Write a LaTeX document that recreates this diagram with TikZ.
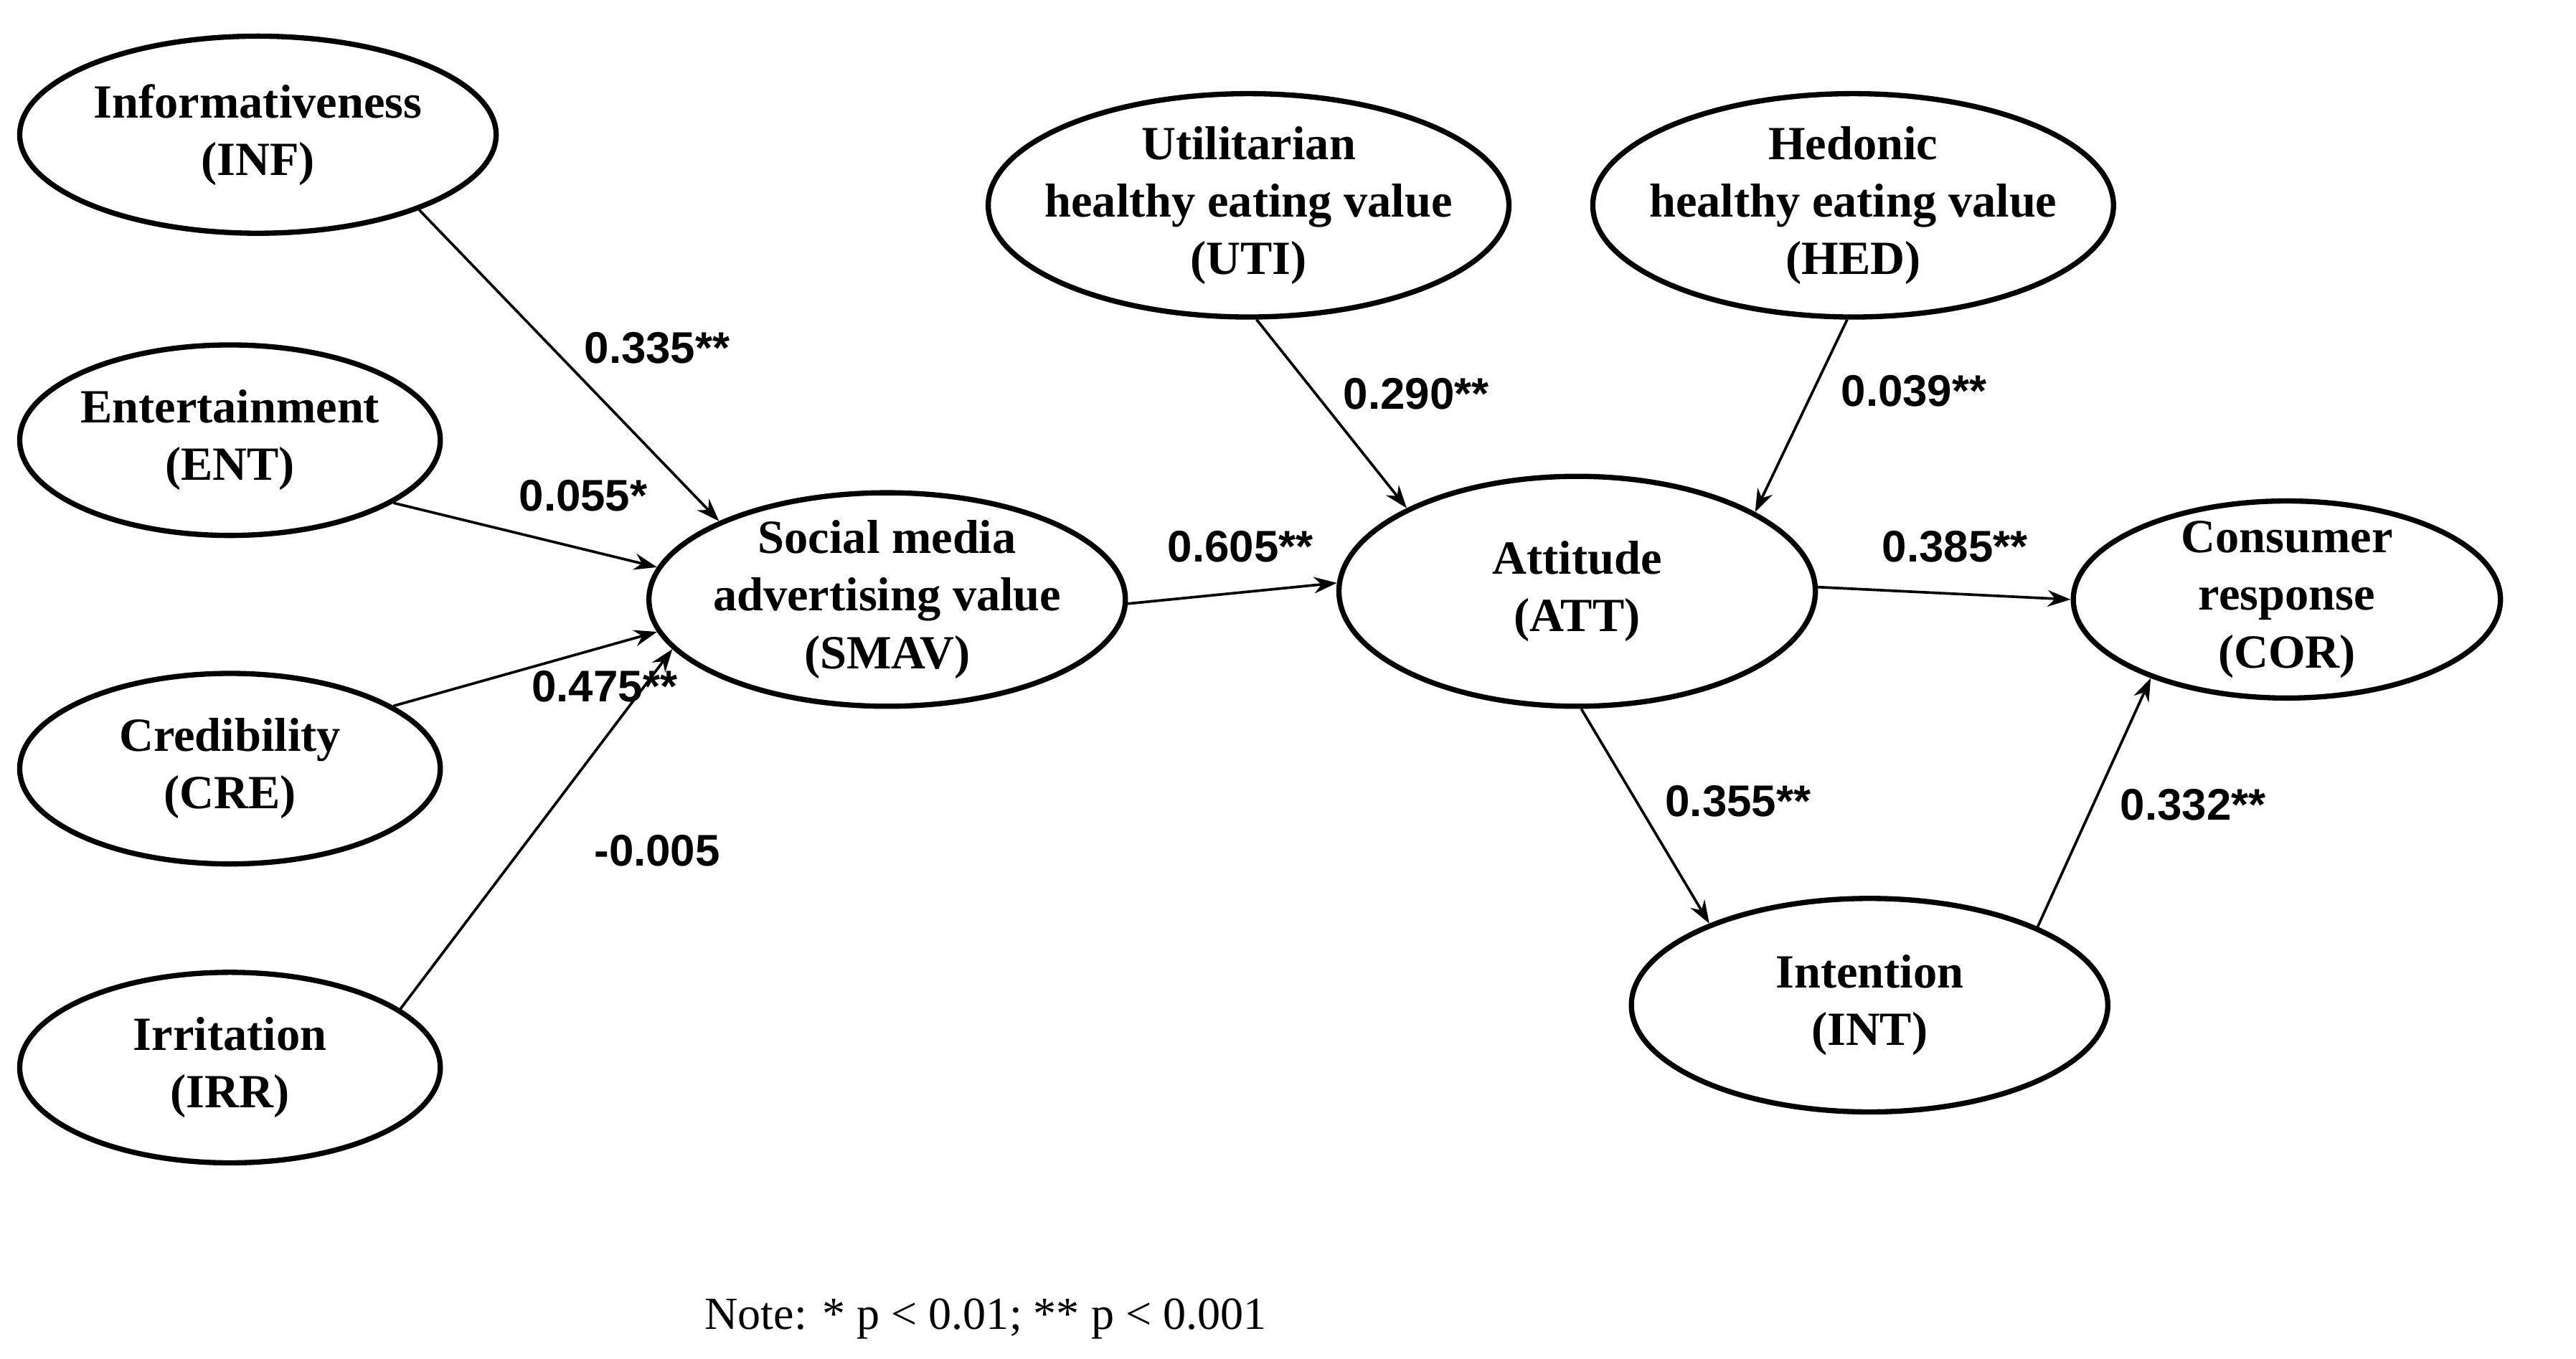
\documentclass[tikz,border=0pt]{standalone}
\usepackage{fontspec}
\setmainfont{Liberation Serif}
\newfontfamily\numf{Liberation Sans}
\usetikzlibrary{shapes.geometric,arrows.meta}
\begin{document}
\begin{tikzpicture}[x=0.5pt,y=-0.5pt,
  lv/.style={ellipse,draw,line width=1.6pt,inner sep=-6pt,align=center,font=\fontsize{14.5}{17.5}\selectfont\bfseries},
  ar/.style={-{Stealth[length=7pt,width=5pt]},line width=0.8pt},
  co/.style={font=\numf\fontsize{13.5}{15}\selectfont\bfseries}]
\useasboundingbox (0,0) rectangle (1568,827);
\node[lv,minimum width=145pt,minimum height=60pt] (inf) at (157,82) {Informativeness\\(INF)};
\node[lv,minimum width=128pt,minimum height=58pt] (ent) at (140,268) {Entertainment\\(ENT)};
\node[lv,minimum width=128pt,minimum height=58pt] (cre) at (140,468) {Credibility\\(CRE)};
\node[lv,minimum width=128pt,minimum height=58pt] (irr) at (140,650) {Irritation\\(IRR)};
\node[lv,minimum width=145pt,minimum height=65pt] (smav) at (540,365) {Social media\\advertising value\\(SMAV)};
\node[lv,minimum width=145pt,minimum height=68pt] (uti) at (760,125) {Utilitarian\\healthy eating value\\(UTI)};
\node[lv,minimum width=140pt,minimum height=68pt] (hed) at (1128,125) {Hedonic\\healthy eating value\\(HED)};
\node[lv,minimum width=145pt,minimum height=70pt] (att) at (960,360) {Attitude\\(ATT)};
\node[lv,minimum width=130pt,minimum height=60pt] (cor) at (1392,365) {Consumer\\response\\(COR)};
\node[lv,minimum width=145pt,minimum height=65pt] (int) at (1138,612) {Intention\\(INT)};
\draw[ar] (inf.-25) -- (smav.155);
\draw[ar] (ent.-21) -- (smav.172);
\draw[ar] (cre.21) -- (smav.188);
\draw[ar] (irr.19) -- (smav.193);
\draw[ar] (smav.-1) -- (att.178);
\draw[ar] (uti.-86) -- (att.154);
\draw[ar] (hed.-93) -- (att.24);
\draw[ar] (att.1) -- (cor.180);
\draw[ar] (att.-88) -- (int.153);
\draw[ar] (int.25) -- (cor.-150);
\node[co] (l1) at (400,212) {0.335**};
\node[co] (l2) at (355,302) {0.055*};
\node[co] (l3) at (368,418) {0.475**};
\node[co] (l4) at (400,518) {-0.005};
\node[co] (l5) at (755,333) {0.605**};
\node[co] (l6) at (862,240) {0.290**};
\node[co] (l7) at (1165,238) {0.039**};
\node[co] (l8) at (1190,333) {0.385**};
\node[co] (l9) at (1058,488) {0.355**};
\node[co] (l10) at (1335,490) {0.332**};
\node[font=\fontsize{14}{16}\selectfont] (note) at (600,803) {Note: * p < 0.01; ** p < 0.001};
\end{tikzpicture}
\end{document}
